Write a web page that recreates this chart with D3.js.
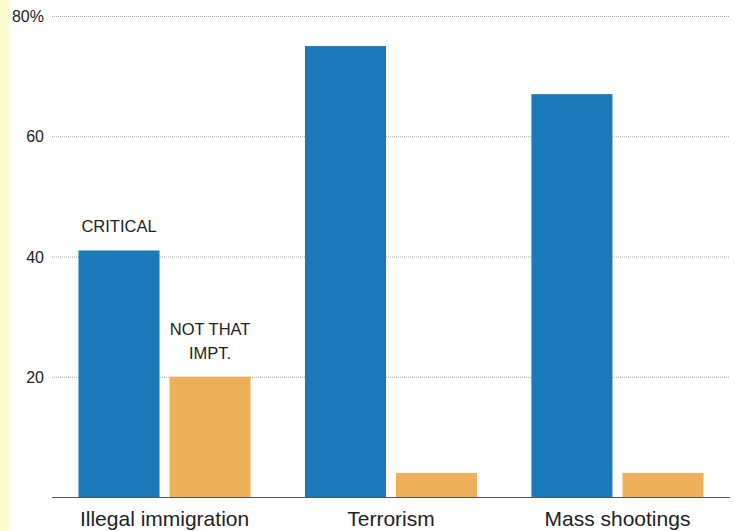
<!DOCTYPE html>
<html>
<head>
<meta charset="utf-8">
<script src="https://cdn.jsdelivr.net/npm/d3@7"></script>
<style>
  html, body { margin: 0; padding: 0; background: #fff; }
  svg { display: block; }
  text { font-family: "Liberation Sans", Arial, sans-serif; fill: #222; }
</style>
</head>
<body>
<svg id="chart" width="735" height="531"></svg>
<script>
// Share of respondents rating each issue
const categories = ["Illegal immigration", "Terrorism", "Mass shootings"];
const seriesKeys = ["critical", "notThatImportant"];
const criticalValues = [41, 75, 67];
const notImportantValues = [20, 4, 4];
const tickValues = [20, 40, 60, 80];
const tickLabels = ["20", "40", "60", "80%"];

const colors = { critical: "#1b79b7", notThatImportant: "#efb05c" };

const W = 735, H = 531;
const svg = d3.select("#chart");

// pale side strip
svg.append("rect").attr("x", 0).attr("y", 0).attr("width", 10).attr("height", H)
  .attr("fill", "#fffdcf");

const plotLeft = 52, plotRight = 730;
const y = d3.scaleLinear().domain([0, 80]).range([497, 16]);

const x0 = d3.scaleBand().domain(categories).range([plotLeft, plotRight])
  .paddingInner(0.24).paddingOuter(0.117);
const x1 = d3.scaleBand().domain(seriesKeys).range([0, x0.bandwidth()])
  .paddingInner(0.11).paddingOuter(0);

// gridlines
svg.append("g").selectAll("line").data(tickValues).join("line")
  .attr("x1", plotLeft).attr("x2", plotRight)
  .attr("y1", d => y(d) + 0.5).attr("y2", d => y(d) + 0.5)
  .attr("stroke", "#a9a9a9").attr("stroke-width", 1)
  .attr("stroke-dasharray", "1,1");

// y tick labels
svg.append("g").selectAll("text").data(tickValues).join("text")
  .attr("x", 44).attr("y", d => y(d) + 6)
  .attr("text-anchor", "end").attr("font-size", 16)
  .text((d, i) => tickLabels[i]);

// bars
const rows = categories.map((c, i) => ({
  category: c,
  values: [
    { key: "critical", value: criticalValues[i] },
    { key: "notThatImportant", value: notImportantValues[i] }
  ]
}));

const groups = svg.append("g").selectAll("g").data(rows).join("g")
  .attr("transform", d => `translate(${x0(d.category)},0)`);

groups.selectAll("rect").data(d => d.values).join("rect")
  .attr("x", d => x1(d.key))
  .attr("width", x1.bandwidth())
  .attr("y", d => y(d.value))
  .attr("height", d => y(0) - y(d.value))
  .attr("fill", d => colors[d.key]);

// baseline
svg.append("line").attr("x1", plotLeft).attr("x2", plotRight)
  .attr("y1", y(0) + 0.5).attr("y2", y(0) + 0.5)
  .attr("stroke", "#555").attr("stroke-width", 1);

// category labels
svg.append("g").selectAll("text").data(categories).join("text")
  .attr("x", d => x0(d) + x0.bandwidth() / 2)
  .attr("y", 526)
  .attr("text-anchor", "middle").attr("font-size", 21)
  .text(d => d);

// series labels above the first group
const first = categories[0];
svg.append("text")
  .attr("x", x0(first) + x1("critical") + x1.bandwidth() / 2)
  .attr("y", y(criticalValues[0]) - 18)
  .attr("text-anchor", "middle").attr("font-size", 16.5)
  .text("CRITICAL");

const ntLabel = svg.append("text")
  .attr("text-anchor", "middle").attr("font-size", 16.5);
const ntX = x0(first) + x1("notThatImportant") + x1.bandwidth() / 2;
ntLabel.append("tspan").attr("x", ntX).attr("y", y(notImportantValues[0]) - 42).text("NOT THAT");
ntLabel.append("tspan").attr("x", ntX).attr("y", y(notImportantValues[0]) - 18).text("IMPT.");
</script>
</body>
</html>
